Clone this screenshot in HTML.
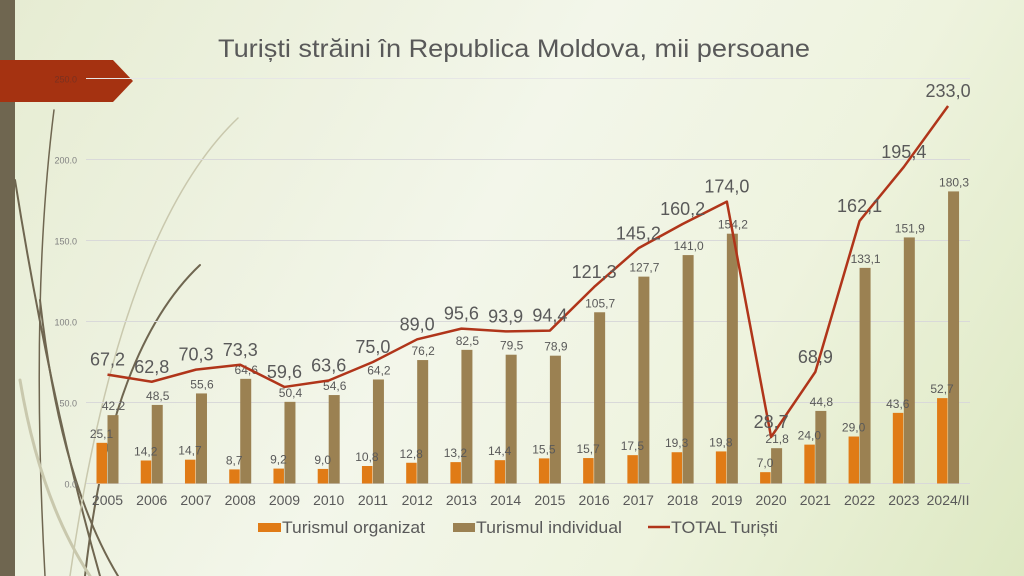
<!DOCTYPE html>
<html><head><meta charset="utf-8"><style>
html,body{margin:0;padding:0;width:1024px;height:576px;overflow:hidden}
body{background:linear-gradient(120deg,#e6ecd2 0%,#f3f6ea 45%,#eef3de 70%,#dde8c2 100%);font-family:"Liberation Sans",sans-serif}
</style></head><body>
<svg id="s" width="1024" height="576" xmlns="http://www.w3.org/2000/svg" style="position:absolute;left:0;top:0">
<rect x="0" y="0" width="15" height="576" fill="#6f6650"/>
<g fill="none" stroke-linecap="round">
<path d="M54 110 Q30 300 45 576" stroke="#6f6650" stroke-width="1.5"/>
<path d="M15 180 Q50 400 100 576" stroke="#6f6650" stroke-width="2"/>
<path d="M40 300 Q60 480 118 576" stroke="#6f6650" stroke-width="2"/>
<path d="M200 265 Q110 350 85 576" stroke="#6f6650" stroke-width="2"/>
<path d="M238 118 Q120 230 70 576" stroke="#c9c8ad" stroke-width="1.5"/>
<path d="M20 380 Q40 500 90 576" stroke="#c9c8ad" stroke-width="3"/>
</g>
<polygon points="0,60 113,60 133,81 113,102 0,102" fill="#a53211"/>
<text x="218" y="57" textLength="592" lengthAdjust="spacingAndGlyphs" font-size="25" fill="#595959">Turiști străini în Republica Moldova, mii persoane</text>
<g id="g"></g>
</svg>
<script>
var org=[25.1,14.2,14.7,8.7,9.2,9.0,10.8,12.8,13.2,14.4,15.5,15.7,17.5,19.3,19.8,7.0,24.0,29.0,43.6,52.7];
var ind=[42.2,48.5,55.6,64.6,50.4,54.6,64.2,76.2,82.5,79.5,78.9,105.7,127.7,141.0,154.2,21.8,44.8,133.1,151.9,180.3];
var tot=[67.2,62.8,70.3,73.3,59.6,63.6,75.0,89.0,95.6,93.9,94.4,121.3,145.2,160.2,174.0,28.7,68.9,162.1,195.4,233.0];
var yrs=[];for(var i=2005;i<=2023;i++)yrs.push(""+i);yrs.push("2024/II");
function Y(v){return 483.5-v*1.62}
function X(i){return 107.5+i*44.24}
var h="";
[0,50,100,150,200,250].forEach(function(v){
h+='<line x1="86" x2="970" y1="'+Y(v)+'" y2="'+Y(v)+'" stroke="'+(v==250?'#e6e6e6':'#d9d9d9')+'" stroke-width="1"/>';
h+='<text x="77" y="'+(Y(v)+4)+'" text-anchor="end" font-size="9" fill="'+(v==250?'#7a3020':'#7f7f7f')+'">'+v.toFixed(1)+'</text>';});
function f(v){return v.toFixed(1).replace('.',',')}
for(var i=0;i<20;i++){var c=X(i);
h+='<rect x="'+(c-11)+'" y="'+Y(org[i])+'" width="10.5" height="'+(org[i]*1.62)+'" fill="#e07b16"/>';
h+='<rect x="'+c+'" y="'+Y(ind[i])+'" width="11" height="'+(ind[i]*1.62)+'" fill="#9b8152"/>';
h+='<text x="'+(c-6)+'" y="'+(Y(org[i])-5)+'" text-anchor="middle" font-size="12" fill="#595959">'+f(org[i])+'</text>';
h+='<text x="'+(c+6)+'" y="'+(Y(ind[i])-5)+'" text-anchor="middle" font-size="12" fill="#595959">'+f(ind[i])+'</text>';
h+='<text x="'+c+'" y="505" text-anchor="middle" font-size="14" fill="#595959">'+yrs[i]+'</text>';}
var p="";for(var i=0;i<20;i++)p+=(i?"L":"M")+X(i)+" "+Y(tot[i]);
h+='<path d="'+p+'" fill="none" stroke="#b0351a" stroke-width="2.5" stroke-linejoin="round"/>';
for(var i=0;i<20;i++)h+='<text x="'+X(i)+'" y="'+(Y(tot[i])-9)+'" text-anchor="middle" font-size="18" fill="#595959">'+f(tot[i])+'</text>';
h+='<rect x="258" y="523" width="23" height="9" fill="#e07b16"/><text x="282" y="533" font-size="17" textLength="143" lengthAdjust="spacingAndGlyphs" fill="#595959">Turismul organizat</text>';
h+='<rect x="453" y="523" width="22" height="9" fill="#9b8152"/><text x="476" y="533" font-size="17" textLength="146" lengthAdjust="spacingAndGlyphs" fill="#595959">Turismul individual</text>';
h+='<line x1="648" x2="670" y1="527" y2="527" stroke="#b0351a" stroke-width="2.5"/><text x="671" y="533" font-size="17" textLength="107" lengthAdjust="spacingAndGlyphs" fill="#595959">TOTAL Turiști</text>';
document.getElementById("g").innerHTML=h;
</script>
</body></html>
